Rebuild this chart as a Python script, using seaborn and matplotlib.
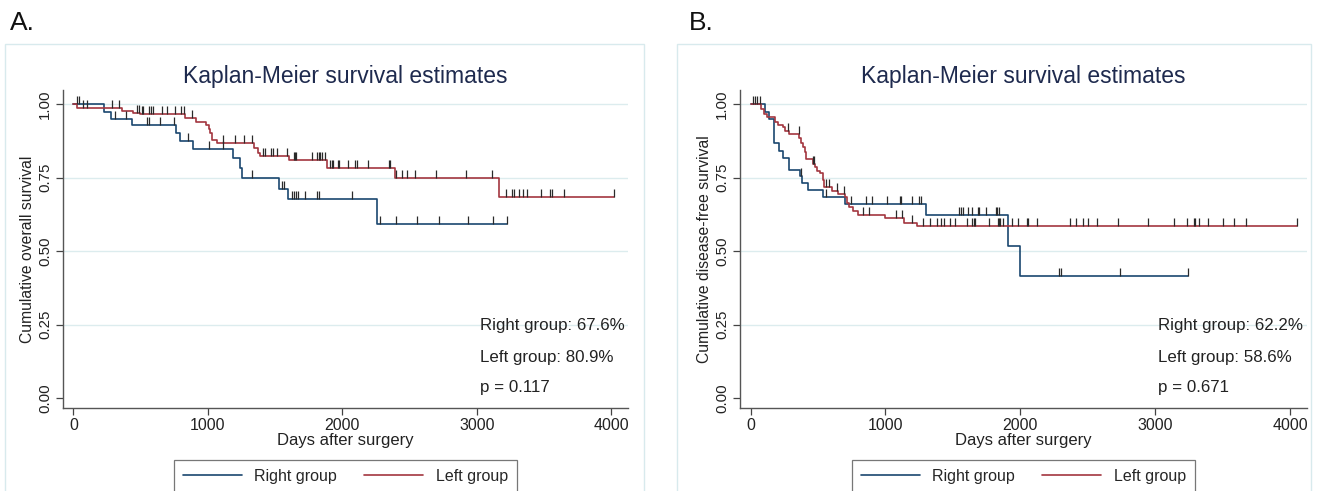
import numpy as np
import pandas as pd
import matplotlib
matplotlib.use("Agg")
import matplotlib.pyplot as plt
from matplotlib.lines import Line2D
from matplotlib.patches import Rectangle
import seaborn as sns

# Panel A: overall survival (step times in days, survival after each step)
a_right_t = [0, 224, 278, 433, 765, 795, 888, 1188, 1238, 1257, 1528, 1594, 2260, 3225]
a_right_s = [1.0, 0.974, 0.951, 0.929, 0.900, 0.875, 0.846, 0.815, 0.781, 0.747, 0.710, 0.676, 0.591, 0.591]
a_right_cens = [27, 44, 310, 389, 548, 561, 642, 748, 851, 1006, 1109, 1331, 1548, 1565, 1626, 1638,
                1655, 1670, 1725, 1810, 1823, 2069, 2283, 2401, 2556, 2721, 2935, 3122, 3225]

a_left_t = [0, 27, 364, 440, 494, 831, 908, 987, 1006, 1016, 1031, 1068, 1343, 1375, 1387, 1601,
            1884, 2389, 3164, 4024]
a_left_s = [1.0, 0.986, 0.977, 0.970, 0.965, 0.953, 0.939, 0.929, 0.914, 0.902, 0.878, 0.866, 0.849,
            0.834, 0.823, 0.809, 0.783, 0.747, 0.685, 0.685]
a_left_cens = [69, 101, 285, 339, 475, 485, 507, 519, 563, 573, 588, 655, 696, 753, 802, 819, 883,
               1109, 1203, 1269, 1331, 1410, 1424, 1471, 1486, 1515, 1589, 1638, 1651, 1658, 1773,
               1810, 1823, 1835, 1847, 1872, 1909, 1921, 1934, 1966, 1978, 2040, 2094, 2111, 2192,
               2345, 2354, 2396, 2441, 2480, 2537, 2696, 2923, 3115, 3218, 3262, 3275, 3312, 3343,
               3373, 3476, 3545, 3557, 3651, 4024]

# Panel B: disease-free survival
b_right_t = [0, 104, 134, 176, 214, 241, 288, 365, 382, 424, 538, 704, 1300, 1912, 1994, 3246]
b_right_s = [1.0, 0.974, 0.951, 0.866, 0.840, 0.817, 0.776, 0.755, 0.730, 0.707, 0.683, 0.659,
             0.622, 0.518, 0.415, 0.415]
b_right_cens = [15, 30, 374, 560, 742, 853, 898, 1010, 1109, 1118, 1200, 1250, 1263, 1548, 1560,
                1572, 1610, 1642, 1684, 1696, 1746, 1820, 1828, 1840, 2284, 2299, 2738, 3246]

b_left_t = [0, 79, 97, 122, 179, 203, 241, 258, 288, 362, 374, 387, 402, 414, 461, 476, 494, 518,
            536, 546, 605, 647, 699, 712, 729, 759, 796, 995, 1138, 1233, 4048]
b_left_s = [1.0, 0.982, 0.966, 0.957, 0.938, 0.929, 0.921, 0.909, 0.898, 0.883, 0.866, 0.853, 0.836,
            0.813, 0.796, 0.785, 0.773, 0.764, 0.741, 0.717, 0.705, 0.694, 0.683, 0.662, 0.649,
            0.637, 0.622, 0.611, 0.597, 0.586, 0.586]
b_left_cens = [47, 67, 278, 357, 464, 469, 560, 585, 642, 692, 833, 878, 1081, 1126, 1195, 1282,
               1332, 1379, 1411, 1436, 1478, 1518, 1605, 1642, 1654, 1667, 1766, 1833, 1845, 1853,
               1875, 1940, 1982, 2049, 2057, 2126, 2366, 2416, 2466, 2503, 2565, 2726, 2949, 3142,
               3239, 3284, 3296, 3328, 3391, 3500, 3586, 3673, 4048]

groups = ["Right group", "Left group"]
panel_letters = ["A.", "B."]
y_labels = ["Cumulative overall survival", "Cumulative disease-free survival"]
notes_a = ["Right group: 67.6%", "Left group: 80.9%", "p = 0.117"]
notes_b = ["Right group: 62.2%", "Left group: 58.6%", "p = 0.671"]

colors = {"Right group": "#1a476f", "Left group": "#a3363f"}
grid_col = "#dcecee"

sns.set_theme(style="white")
plt.rcParams["font.family"] = ["Liberation Sans", "DejaVu Sans"]

fig = plt.figure(figsize=(13.19, 4.91), dpi=100)
W, H = 1319, 491


def level_at(times, surv, t):
    idx = np.searchsorted(times, t, side="right") - 1
    return np.asarray(surv)[idx]


panels = [
    dict(ax_left=63, ax_right=628, box=(5, 644), letter_x=10,
         curves=[(a_right_t, a_right_s, a_right_cens), (a_left_t, a_left_s, a_left_cens)],
         ylabel=y_labels[0], notes=notes_a, letter=panel_letters[0]),
    dict(ax_left=740, ax_right=1307, box=(677, 1311), letter_x=689,
         curves=[(b_right_t, b_right_s, b_right_cens), (b_left_t, b_left_s, b_left_cens)],
         ylabel=y_labels[1], notes=notes_b, letter=panel_letters[1]),
]

ax_top, ax_bot = 90, 408
for p in panels:
    # light panel frame
    x0, x1 = p["box"]
    fig.patches.append(Rectangle((x0 / W, -0.05), (x1 - x0) / W, 1.05 - 44 / H,
                                 transform=fig.transFigure, fill=False,
                                 edgecolor="#d8eaed", linewidth=1.0))
    fig.text(p["letter_x"] / W, 1 - 23 / H, p["letter"], fontsize=19, va="center", ha="left",
             color="#111111")

    ax = fig.add_axes([p["ax_left"] / W, 1 - ax_bot / H,
                       (p["ax_right"] - p["ax_left"]) / W, (ax_bot - ax_top) / H])

    rows = []
    for g, (t, s, c) in zip(groups, p["curves"]):
        rows.append(pd.DataFrame({"days": t, "surv": s, "group": g}))
    df = pd.concat(rows, ignore_index=True)

    sns.lineplot(data=df, x="days", y="surv", hue="group", palette=colors, estimator=None,
                 sort=False, drawstyle="steps-post", linewidth=1.2, legend=False, ax=ax, zorder=3)

    # censoring ticks
    for g, (t, s, c) in zip(groups, p["curves"]):
        ax.plot(c, level_at(t, s, c), linestyle="none", marker=2, markersize=6,
                markeredgewidth=0.9, color="#2a2a2a", zorder=4)

    ax.set_xlim(-78, 4125)
    ax.set_ylim(-0.034, 1.048)
    ax.set_xticks([0, 1000, 2000, 3000, 4000])
    ax.set_yticks([0, 0.25, 0.5, 0.75, 1.0])
    ax.set_yticklabels(["0.00", "0.25", "0.50", "0.75", "1.00"])
    ax.tick_params(axis="y", labelrotation=90, labelsize=10.8, length=5, width=0.9,
                   color="#444444", labelcolor="#222222", pad=3, left=True)
    ax.tick_params(axis="x", labelsize=11.5, length=5, width=0.9, color="#444444",
                   labelcolor="#222222", pad=2, bottom=True)
    for lab in ax.get_yticklabels():
        lab.set_va("center")

    for y in [0.25, 0.5, 0.75, 1.0]:
        ax.axhline(y, color=grid_col, linewidth=1.0, zorder=1)

    sns.despine(ax=ax)
    for side in ["left", "bottom"]:
        ax.spines[side].set_color("#555555")
        ax.spines[side].set_linewidth(1.0)

    ax.set_title("Kaplan-Meier survival estimates", fontsize=16.5, color="#1e2a4e", pad=5)
    ax.set_xlabel("Days after surgery", fontsize=12, color="#222222", labelpad=0)
    ax.set_ylabel(p["ylabel"], fontsize=11.3, color="#222222", labelpad=2)

    for txt, yv in zip(p["notes"], [0.248, 0.139, 0.037]):
        ax.text(3021, yv, txt, fontsize=12.2, color="#222222", va="center", ha="left")

    handles = [Line2D([], [], color=colors[g], linewidth=1.2) for g in groups]
    xc = (p["ax_left"] + p["ax_right"]) / 2 / W
    leg = fig.legend(handles, groups, loc="upper center", bbox_to_anchor=(xc, 1 - 460 / H),
                     ncol=2, fontsize=11.5, frameon=True, fancybox=False, handlelength=3.7,
                     columnspacing=1.7, handletextpad=0.8, borderpad=0.55, borderaxespad=0)
    leg.get_frame().set_edgecolor("#555555")
    leg.get_frame().set_linewidth(0.9)

fig.savefig("out.png", dpi=100)
